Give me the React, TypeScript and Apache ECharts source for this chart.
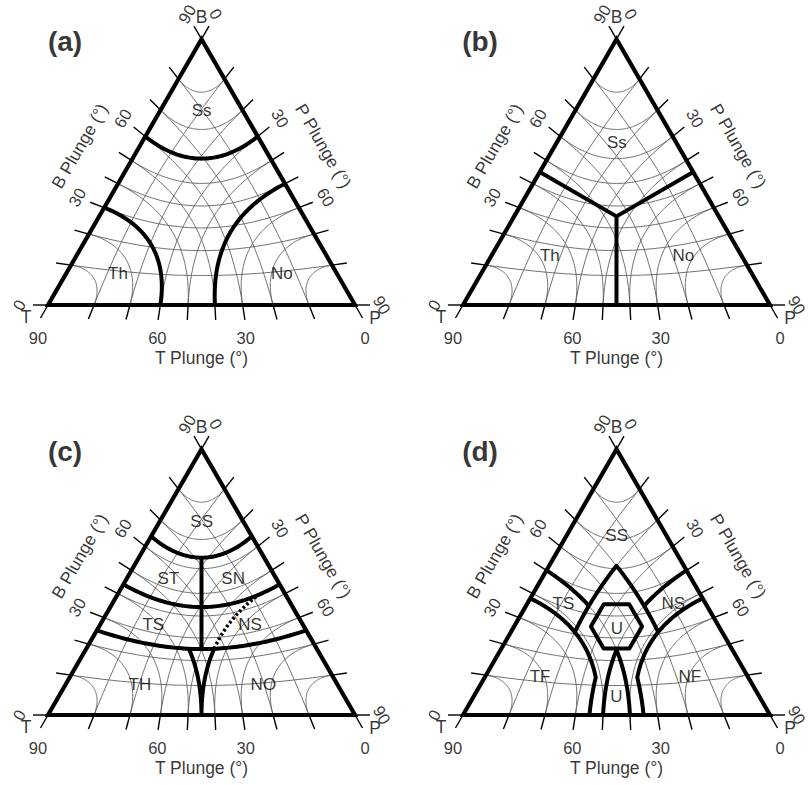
import React, { useEffect, useRef } from "react";
import * as echarts from "echarts";

// ---------------- data ----------------
const GRID_PLUNGES = [10, 20, 30, 40, 50, 60, 70, 80];
const TICK_PLUNGES = [0, 10, 20, 30, 40, 50, 60, 70, 80, 90];
const BOTTOM_TICK_LABELS = [90, 60, 30, 0]; // T plunge
const LEFT_TICK_LABELS = [0, 30, 60, 90]; // B plunge
const RIGHT_TICK_LABELS = [0, 30, 60, 90]; // P plunge
const AXIS_TITLES = ["T Plunge (°)", "B Plunge (°)", "P Plunge (°)"];
const VERTEX_NAMES = ["T", "B", "P"];
const PANEL_LETTERS = ["(a)", "(b)", "(c)", "(d)"];

const CENTROID = 35.26;
const HEX = [
  [34.4, 45, 25.1],
  [25.1, 45, 34.4],
  [25.1, 34.4, 45],
  [34.4, 25.1, 45],
  [45, 25.1, 34.4],
  [45, 34.4, 25.1],
];

// boundary = list of segments joined into one polyline
// curve segment: [fixedAxis, value, varyingAxis, from, to]
// 'L': great-circle polyline through plunge triplets [T, B, P]
// 'M': line T = P from B plunge a to b
const BOUNDARIES_A = [
  [["B", 60, "T", 30, 0]],
  [["T", 60, "B", 0, 30]],
  [["P", 50, "B", 0, 40]],
];
const BOUNDARIES_B = [
  [["L", [[45, 45, 0], [CENTROID, CENTROID, CENTROID], [0, 45, 45]]]],
  [["L", [[CENTROID, CENTROID, CENTROID], [45, 0, 45]]]],
];
const BOUNDARIES_C = [
  [["B", 64, "T", 26, 0]],
  [["B", 44, "T", 46, 0]],
  [["B", 25, "T", 65, 0]],
  [["M", 64, 25]],
  [["T", 45, "B", 25, 0], ["P", 45, "B", 0, 25]],
];
const DOTTED_C = [[["P", 45, "B", 25, 44]]];
const BOUNDARIES_D = [
  [["T", 40, "P", 0, 20]],
  [["P", 40, "T", 0, 20]],
  [["P", 20, "T", 52, 20], ["T", 20, "P", 20, 52]],
  [["T", 52, "P", 0, 35], ["P", 35, "T", 52, 55]],
  [["P", 52, "T", 0, 35], ["T", 35, "P", 52, 55]],
  [["P", 40, "T", 50, 40], ["T", 40, "P", 40, 50]],
  [["L", [...HEX, HEX[0], HEX[1]]]],
];

// region labels: [text, fraction T, fraction B, fraction P]
const LABELS_A = [["Ss", 0.133, 0.733, 0.134], ["Th", 0.712, 0.12, 0.168], ["No", 0.179, 0.119, 0.702]];
const LABELS_B = [["Ss", 0.194, 0.61, 0.196], ["Th", 0.623, 0.188, 0.189], ["No", 0.188, 0.188, 0.624]];
const LABELS_C = [
  ["SS", 0.136, 0.727, 0.137],
  ["ST", 0.352, 0.512, 0.136],
  ["SN", 0.141, 0.512, 0.347],
  ["TS", 0.486, 0.342, 0.172],
  ["NS", 0.171, 0.342, 0.487],
  ["TH", 0.644, 0.113, 0.243],
  ["NO", 0.242, 0.113, 0.645],
];
const LABELS_D = [
  ["SS", 0.161, 0.677, 0.162],
  ["TS", 0.463, 0.42, 0.117],
  ["NS", 0.105, 0.42, 0.475],
  ["U", 0.336, 0.326, 0.338],
  ["U", 0.466, 0.069, 0.465],
  ["TF", 0.677, 0.144, 0.179],
  ["NF", 0.189, 0.144, 0.667],
];

const PANELS = [
  { bounds: BOUNDARIES_A, dotted: [], labels: LABELS_A },
  { bounds: BOUNDARIES_B, dotted: [], labels: LABELS_B },
  { bounds: BOUNDARIES_C, dotted: DOTTED_C, labels: LABELS_C },
  { bounds: BOUNDARIES_D, dotted: [], labels: LABELS_D },
];

// ---------------- layout ----------------
const BASE = 307;
const S3 = Math.sqrt(3) / 2;
const HEIGHT = BASE * S3;
const ORIGINS = [
  [48, 305],
  [463, 305],
  [48, 715],
  [463, 715],
];
const FONT = "'Liberation Sans', Arial, Helvetica, sans-serif";
const px = (n: number) => n / BASE;

// ---------------- projection ----------------
const D2R = Math.PI / 180;
const IDX: any = { T: 0, B: 1, P: 2 };
const OTHERS: any = { T: ["P", "B"], B: ["T", "P"], P: ["T", "B"] };

function projVec(v: number[]): number[] {
  const w = v[0] + v[1] + v[2];
  const fB = v[1] / w;
  const fP = v[2] / w;
  return [fP + fB / 2, fB * S3];
}
function projPl(t: number, b: number, p: number) {
  return projVec([Math.sin(t * D2R), Math.sin(b * D2R), Math.sin(p * D2R)]);
}
function projFrac(fT: number, fB: number, fP: number) {
  return projVec([fT, fB, fP]);
}
const clamp = (x: number) => Math.max(-1, Math.min(1, x));
function curve(A: string, c: number, V: string, v0: number, v1: number, n = 72) {
  const cc = Math.cos(c * D2R);
  const [K1, K2] = OTHERS[A];
  const phi = (v: number) =>
    V === K1 ? Math.acos(clamp(Math.sin(v * D2R) / cc)) : Math.asin(clamp(Math.sin(v * D2R) / cc));
  const p0 = phi(v0);
  const p1 = phi(v1);
  const pts: number[][] = [];
  for (let i = 0; i <= n; i++) {
    const f = p0 + ((p1 - p0) * i) / n;
    const vec = [0, 0, 0];
    vec[IDX[A]] = Math.sin(c * D2R);
    vec[IDX[K1]] = cc * Math.cos(f);
    vec[IDX[K2]] = cc * Math.sin(f);
    pts.push(projVec(vec));
  }
  return pts;
}
function midPl(b: number) {
  const s = Math.sin(b * D2R);
  const t = Math.asin(Math.sqrt((1 - s * s) / 2)) / D2R;
  return [t, b, t];
}
function segPoints(seg: any[]): number[][] {
  if (seg[0] === "L") return seg[1].map((q: number[]) => projPl(q[0], q[1], q[2]));
  if (seg[0] === "M") {
    const a = midPl(seg[1]);
    const b = midPl(seg[2]);
    return [projPl(a[0], a[1], a[2]), projPl(b[0], b[1], b[2])];
  }
  return curve(seg[0], seg[1], seg[2], seg[3], seg[4]);
}
function boundaryPoints(b: any[]) {
  let pts: number[][] = [];
  b.forEach((s) => (pts = pts.concat(segPoints(s))));
  return pts;
}
const norm = (a: number[]) => {
  const l = Math.hypot(a[0], a[1]);
  return [a[0] / l, a[1] / l];
};

function buildOption() {
  const grids: any[] = [];
  const xAxes: any[] = [];
  const yAxes: any[] = [];
  const series: any[] = [];
  const VT = [0, 0];
  const VP = [1, 0];
  const VB = [0.5, S3];

  PANELS.forEach((panel, i) => {
    const [ox, oy] = ORIGINS[i];
    grids.push({ left: ox, top: oy - HEIGHT, width: BASE, height: HEIGHT });
    xAxes.push({ type: "value", gridIndex: i, min: 0, max: 1, show: false });
    yAxes.push({ type: "value", gridIndex: i, min: 0, max: S3, show: false });
    const ax = { xAxisIndex: i, yAxisIndex: i };

    // grid curves
    const gridLines: any[] = [];
    GRID_PLUNGES.forEach((c) => {
      ["T", "B", "P"].forEach((A) => {
        const K2 = OTHERS[A][1];
        gridLines.push({ coords: curve(A, c, K2, 0, 90 - c) });
      });
    });
    series.push({
      type: "lines",
      coordinateSystem: "cartesian2d",
      ...ax,
      polyline: true,
      silent: true,
      clip: false,
      data: gridLines,
      lineStyle: { color: "#5e5e5e", width: 0.9, opacity: 1 },
      z: 1,
    });

    // ticks and tick labels
    const ticks: any[] = [];
    const labels: any[] = [];
    const TL = px(15);
    TICK_PLUNGES.forEach((v) => {
      const pb = projPl(v, 0, 90 - v);
      const db = norm([pb[0] - VB[0], pb[1] - VB[1]]);
      ticks.push({ coords: [pb, [pb[0] + db[0] * TL, pb[1] + db[1] * TL]] });
      const pl = projPl(90 - v, v, 0);
      const dl = norm([pl[0] - VP[0], pl[1] - VP[1]]);
      ticks.push({ coords: [pl, [pl[0] + dl[0] * TL, pl[1] + dl[1] * TL]] });
      const pr = projPl(0, 90 - v, v);
      const dr = norm([pr[0] - VT[0], pr[1] - VT[1]]);
      ticks.push({ coords: [pr, [pr[0] + dr[0] * TL, pr[1] + dr[1] * TL]] });
    });
    series.push({
      type: "lines",
      coordinateSystem: "cartesian2d",
      ...ax,
      polyline: true,
      silent: true,
      clip: false,
      data: ticks,
      lineStyle: { color: "#000", width: 1.4, opacity: 1 },
      z: 2,
    });

    BOTTOM_TICK_LABELS.forEach((v) => {
      const pb = projPl(v, 0, 90 - v);
      const db = norm([pb[0] - VB[0], pb[1] - VB[1]]);
      labels.push({ name: String(v), value: [pb[0] + db[0] * px(20), -px(33)] });
    });
    LEFT_TICK_LABELS.forEach((v) => {
      const pl = projPl(90 - v, v, 0);
      const dl = norm([pl[0] - VP[0], pl[1] - VP[1]]);
      labels.push({
        name: String(v),
        value: [pl[0] + dl[0] * px(29), pl[1] + dl[1] * px(29)],
        label: { rotate: 60 },
      });
    });
    RIGHT_TICK_LABELS.forEach((v) => {
      const pr = projPl(0, 90 - v, v);
      const dr = norm([pr[0] - VT[0], pr[1] - VT[1]]);
      const d = v === 90 ? 27 : 29;
      labels.push({
        name: String(v),
        value: [pr[0] + dr[0] * px(d), pr[1] + dr[1] * px(d)],
        label: { rotate: -60 },
      });
    });
    // vertex names
    labels.push({ name: VERTEX_NAMES[0], value: [-px(22), -px(12)], label: { fontSize: 17.5 } });
    labels.push({ name: VERTEX_NAMES[1], value: [0.5, S3 + px(22)], label: { fontSize: 17.5 } });
    labels.push({ name: VERTEX_NAMES[2], value: [1 + px(20), -px(12.5)], label: { fontSize: 17.5 } });
    // axis titles
    labels.push({ name: AXIS_TITLES[0], value: [0.5, -px(53)], label: { fontSize: 17.5 } });
    labels.push({
      name: AXIS_TITLES[1],
      value: [0.25 - 0.866 * px(52), S3 / 2 + 0.5 * px(52)],
      label: { fontSize: 17.5, rotate: 60 },
    });
    labels.push({
      name: AXIS_TITLES[2],
      value: [0.75 + 0.866 * px(52), S3 / 2 + 0.5 * px(52)],
      label: { fontSize: 17.5, rotate: -60 },
    });
    // panel letter
    labels.push({
      name: PANEL_LETTERS[i],
      value: [px(17), px(264)],
      label: { fontSize: 28, fontWeight: "bold" },
    });
    // region labels
    panel.labels.forEach((l: any) => {
      labels.push({ name: l[0], value: projFrac(l[1], l[2], l[3]), label: { fontSize: 17 } });
    });

    // boundaries
    panel.bounds.forEach((b: any) => {
      series.push({
        type: "line",
        ...ax,
        data: boundaryPoints(b),
        showSymbol: false,
        symbol: "none",
        silent: true,
        clip: false,
        lineStyle: { color: "#000", width: 4, join: "round", cap: "butt" },
        z: 3,
      });
    });
    panel.dotted.forEach((b: any) => {
      series.push({
        type: "line",
        ...ax,
        data: boundaryPoints(b),
        showSymbol: false,
        symbol: "none",
        silent: true,
        clip: false,
        lineStyle: { color: "#000", width: 3.5, type: [2.6, 2.4], cap: "butt" },
        z: 3,
      });
    });
    // triangle outline
    series.push({
      type: "line",
      ...ax,
      data: [VT, VP, VB, VT, VP],
      showSymbol: false,
      symbol: "none",
      silent: true,
      clip: false,
      lineStyle: { color: "#000", width: 4.2, join: "miter", cap: "butt" },
      z: 4,
    });

    series.push({
      type: "scatter",
      ...ax,
      symbolSize: 0,
      silent: true,
      clip: false,
      itemStyle: { color: "transparent" },
      data: labels,
      label: {
        show: true,
        position: "inside",
        formatter: "{b}",
        color: "#000",
        textBorderWidth: 0,
        textBorderColor: "transparent",
        textShadowBlur: 0,
        fontFamily: FONT,
        fontSize: 16.5,
        align: "center",
        verticalAlign: "middle",
      },
      z: 5,
    });
  });

  return {
    animation: false,
    backgroundColor: "#fff",
    grid: grids,
    xAxis: xAxes,
    yAxis: yAxes,
    series,
  };
}

export default function App() {
  const ref = useRef<HTMLDivElement>(null);
  useEffect(() => {
    document.body.style.margin = "0";
    const chart = echarts.init(ref.current as HTMLDivElement, undefined, { renderer: "svg" });
    chart.setOption(buildOption());
    return () => chart.dispose();
  }, []);
  return <div ref={ref} style={{ width: 809, height: 785 }} />;
}
